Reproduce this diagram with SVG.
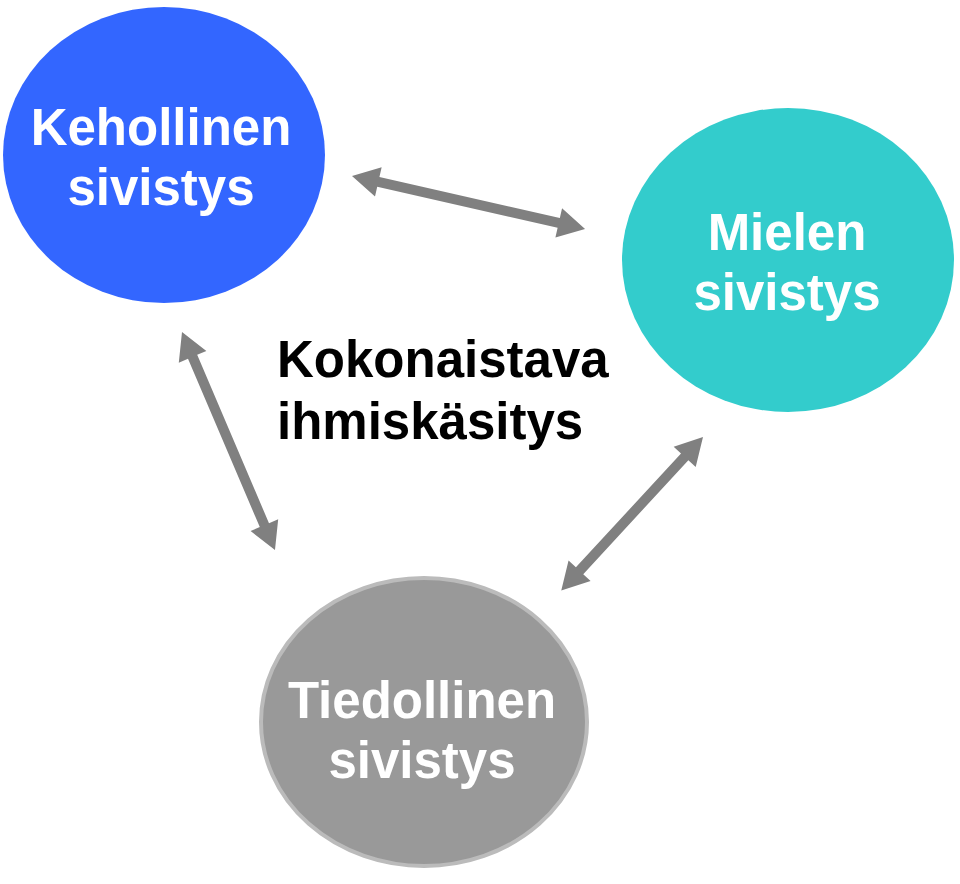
<svg xmlns="http://www.w3.org/2000/svg" width="960" height="884" viewBox="0 0 960 884">
<style>
.lbl{font-family:"Liberation Sans",Arial,sans-serif;font-weight:bold;font-size:51px;text-anchor:middle;fill:#ffffff}
.center{font-family:"Liberation Sans",Arial,sans-serif;font-weight:bold;font-size:51px;fill:#000000}
.arr{fill:#808080}
</style>
<rect width="960" height="884" fill="#ffffff"/>
<g id="connectors">
<polygon class="arr" transform="translate(352,176) rotate(12.8)" points="0,0 27,-15 27,-5 212,-5 212,-15 239,0 212,15 212,5 27,5 27,15"/>
<polygon class="arr" transform="translate(182,332) rotate(66.9)" points="0,0 27,-15 27,-5 210,-5 210,-15 237,0 210,15 210,5 27,5 27,15"/>
<polygon class="arr" transform="translate(703,437) rotate(132.7)" points="0,0 27,-15 27,-5 182,-5 182,-15 209,0 182,15 182,5 27,5 27,15"/>
</g>
<g id="keho">
<ellipse cx="164" cy="155" rx="161" ry="148" fill="#3366ff"/>
<text class="lbl" x="161" y="145">Kehollinen</text>
<text class="lbl" x="161" y="205">sivistys</text>
</g>
<g id="mieli">
<ellipse cx="788" cy="260" rx="166" ry="152" fill="#33cccc"/>
<text class="lbl" x="787" y="250">Mielen</text>
<text class="lbl" x="787" y="310">sivistys</text>
</g>
<g id="tieto">
<ellipse cx="424" cy="722" rx="163" ry="144" fill="#999999" stroke="#bbbbbb" stroke-width="4"/>
<text class="lbl" x="422" y="718">Tiedollinen</text>
<text class="lbl" x="422" y="778">sivistys</text>
</g>
<g id="kokonainen">
<text class="center" x="277" y="377">Kokonaistava</text>
<text class="center" x="277" y="439">ihmiskäsitys</text>
</g>
</svg>
